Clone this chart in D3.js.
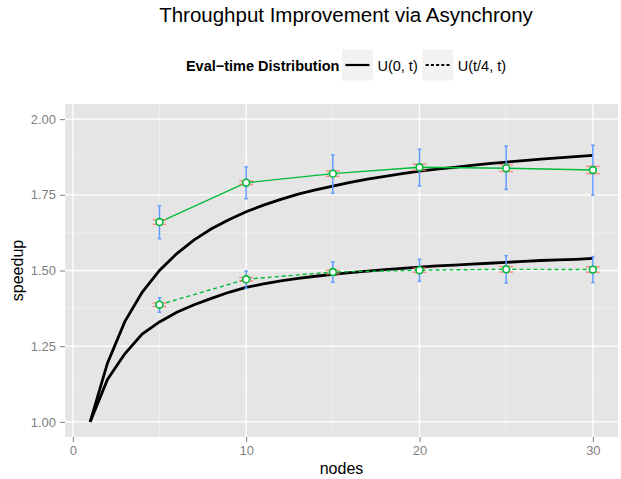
<!DOCTYPE html>
<html>
<head>
<meta charset="utf-8">
<script src="https://cdn.jsdelivr.net/npm/d3@7"></script>
<style>
  body { margin: 0; background: #fff; }
  svg { display: block; font-family: "Liberation Sans", Arial, sans-serif; }
</style>
</head>
<body>
<div class="canvas"></div>
<script>
// measured runs
const nodes = [5, 10, 15, 20, 25, 30];
const distLabels = ['U(0, t)', 'U(t/4, t)'];

const uniMean = [1.660, 1.790, 1.820, 1.841, 1.838, 1.832];
const uniLo   = [1.605, 1.737, 1.755, 1.779, 1.768, 1.749];
const uniHi   = [1.714, 1.842, 1.882, 1.901, 1.911, 1.914];
const uniSe   = [0.0075, 0.006, 0.009, 0.010, 0.011, 0.012];

const qtrMean = [1.387, 1.471, 1.495, 1.501, 1.504, 1.503];
const qtrLo   = [1.362, 1.441, 1.461, 1.464, 1.459, 1.460];
const qtrHi   = [1.410, 1.498, 1.528, 1.537, 1.549, 1.546];
const qtrSe   = [0.006, 0.006, 0.006, 0.007, 0.009, 0.009];

// theoretical curves, nodes 1..30
const theoryNodes = d3.range(1, 31);
const uniTheory = [1.000, 1.194, 1.331, 1.428, 1.500, 1.556, 1.601, 1.638, 1.668, 1.694,
                   1.716, 1.735, 1.752, 1.766, 1.779, 1.791, 1.802, 1.811, 1.820, 1.828,
                   1.835, 1.841, 1.847, 1.853, 1.858, 1.863, 1.868, 1.872, 1.876, 1.880];
const qtrTheory = [1.000, 1.140, 1.225, 1.290, 1.330, 1.362, 1.387, 1.408, 1.428, 1.444,
                   1.456, 1.466, 1.474, 1.481, 1.487, 1.493, 1.498, 1.503, 1.507, 1.511,
                   1.515, 1.518, 1.521, 1.524, 1.527, 1.530, 1.533, 1.535, 1.537, 1.540];

const xTicks = [0, 10, 20, 30];
const xMinor = [5, 15, 25];
const yTicks = [1.00, 1.25, 1.50, 1.75, 2.00];
const yMinor = [1.125, 1.375, 1.625, 1.875];

const W = 621, H = 479;
const panel = { left: 65, right: 618, top: 104, bottom: 437 };
const midX = 346;

const svg = d3.select('.canvas').append('svg')
              .attr('width', W).attr('height', H);

const x = d3.scaleLinear().domain([-0.45, 31.45]).range([panel.left, panel.right]);
const y = d3.scaleLinear().domain([0.95, 2.05]).range([panel.bottom, panel.top]);

// panel + grid
svg.append('rect')
   .attr('x', panel.left).attr('y', panel.top)
   .attr('width', panel.right - panel.left).attr('height', panel.bottom - panel.top)
   .attr('fill', '#E5E5E5');

const grid = svg.append('g');
grid.selectAll('.xminor').data(xMinor).enter().append('line')
    .attr('x1', d => x(d)).attr('x2', d => x(d))
    .attr('y1', panel.top).attr('y2', panel.bottom)
    .attr('stroke', '#F2F2F2').attr('stroke-width', 0.7);
grid.selectAll('.yminor').data(yMinor).enter().append('line')
    .attr('y1', d => y(d)).attr('y2', d => y(d))
    .attr('x1', panel.left).attr('x2', panel.right)
    .attr('stroke', '#F2F2F2').attr('stroke-width', 0.7);
grid.selectAll('.xmajor').data(xTicks).enter().append('line')
    .attr('x1', d => x(d)).attr('x2', d => x(d))
    .attr('y1', panel.top).attr('y2', panel.bottom)
    .attr('stroke', '#fff').attr('stroke-width', 1.3);
grid.selectAll('.ymajor').data(yTicks).enter().append('line')
    .attr('y1', d => y(d)).attr('y2', d => y(d))
    .attr('x1', panel.left).attr('x2', panel.right)
    .attr('stroke', '#fff').attr('stroke-width', 1.3);

// axes (ggplot style: grey ticks, no domain line)
const xAxis = svg.append('g')
  .attr('transform', `translate(0, ${panel.bottom})`)
  .call(d3.axisBottom(x).tickValues(xTicks).tickSize(5).tickPadding(4).tickFormat(d3.format('d')));
const yAxis = svg.append('g')
  .attr('transform', `translate(${panel.left}, 0)`)
  .call(d3.axisLeft(y).tickValues(yTicks).tickSize(5).tickPadding(4).tickFormat(d3.format('.2f')));
[xAxis, yAxis].forEach(a => {
  a.select('.domain').remove();
  a.selectAll('line').attr('stroke', '#7F7F7F');
  a.selectAll('text').attr('fill', '#7F7F7F')
   .style('font-family', '"Liberation Sans", Arial, sans-serif').style('font-size', '13px');
});

// theory curves
const line = d3.line().x(d => x(d[0])).y(d => y(d[1]));
[uniTheory, qtrTheory].forEach(vals => {
  svg.append('path')
     .datum(theoryNodes.map((n, i) => [n, vals[i]]))
     .attr('fill', 'none').attr('stroke', '#000').attr('stroke-width', 2.8)
     .attr('d', line);
});

// measured series
const series = [
  { mean: uniMean, lo: uniLo, hi: uniHi, se: uniSe, dash: null },
  { mean: qtrMean, lo: qtrLo, hi: qtrHi, se: qtrSe, dash: '4,3' }
];

series.forEach(s => {
  const pts = nodes.map((n, i) => ({ n, m: s.mean[i], lo: s.lo[i], hi: s.hi[i], se: s.se[i] }));

  svg.append('path').datum(pts.map(p => [p.n, p.m]))
     .attr('fill', 'none').attr('stroke', '#00BA38').attr('stroke-width', 1.4)
     .attr('stroke-dasharray', s.dash)
     .attr('d', line);

  // blue spread bars
  const g = svg.append('g');
  const capB = 0.1;
  pts.forEach(p => {
    const b = g.append('g').attr('stroke', '#619CFF').attr('stroke-width', 1.5);
    b.append('line').attr('x1', x(p.n)).attr('x2', x(p.n)).attr('y1', y(p.lo)).attr('y2', y(p.hi));
    b.append('line').attr('x1', x(p.n - capB)).attr('x2', x(p.n + capB)).attr('y1', y(p.lo)).attr('y2', y(p.lo));
    b.append('line').attr('x1', x(p.n - capB)).attr('x2', x(p.n + capB)).attr('y1', y(p.hi)).attr('y2', y(p.hi));

    // red standard-error bars
    const capR = 0.4;
    const r = g.append('g').attr('stroke', '#F8766D').attr('stroke-width', 1.5).attr('opacity', 0.75);
    r.append('line').attr('x1', x(p.n - capR)).attr('x2', x(p.n + capR)).attr('y1', y(p.m - p.se)).attr('y2', y(p.m - p.se));
    r.append('line').attr('x1', x(p.n - capR)).attr('x2', x(p.n + capR)).attr('y1', y(p.m + p.se)).attr('y2', y(p.m + p.se));
  });

  g.selectAll('circle').data(pts).enter().append('circle')
   .attr('cx', d => x(d.n)).attr('cy', d => y(d.m)).attr('r', 3.4)
   .attr('fill', '#fff').attr('stroke', '#00BA38').attr('stroke-width', 1.6);
});

// titles
svg.append('text').attr('x', midX).attr('y', 22).attr('text-anchor', 'middle')
   .style('font-size', '20.5px').text('Throughput Improvement via Asynchrony');
svg.append('text').attr('x', (panel.left + panel.right) / 2).attr('y', 474).attr('text-anchor', 'middle')
   .style('font-size', '16px').text('nodes');
svg.append('text').attr('transform', `translate(23, ${(panel.top + panel.bottom) / 2}) rotate(-90)`)
   .attr('text-anchor', 'middle').style('font-size', '16px').text('speedup');

// legend
const leg = svg.append('g');
const legTitle = leg.append('text').attr('y', 71).style('font-size', '14.5px').style('font-weight', 'bold')
                    .text('Eval\u2212time Distribution');
let cx = legTitle.node().getComputedTextLength() + 2;
const keyW = 32, keyH = 32, keyTop = 49;
distLabels.forEach((lab, i) => {
  leg.append('rect').attr('x', cx).attr('y', keyTop).attr('width', keyW).attr('height', keyH)
     .attr('fill', '#F2F2F2').attr('stroke', '#fff');
  leg.append('line').attr('x1', cx + 4).attr('x2', cx + keyW - 4)
     .attr('y1', keyTop + keyH / 2).attr('y2', keyTop + keyH / 2)
     .attr('stroke', '#000').attr('stroke-width', 2.2)
     .attr('stroke-dasharray', i === 1 ? '3,2.2' : null);
  cx += keyW + 4;
  const t = leg.append('text').attr('x', cx).attr('y', 71).style('font-size', '14.5px').text(lab);
  cx += t.node().getComputedTextLength() + 4;
});
const legW = cx - 4;
leg.attr('transform', `translate(${midX - legW / 2}, 0)`);
</script>
</body>
</html>
